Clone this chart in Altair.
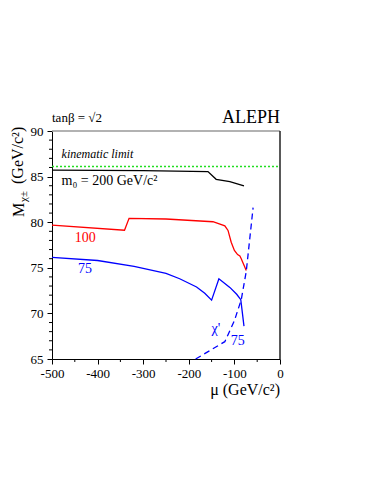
import altair as alt
import pandas as pd

FONT = "Liberation Serif"

# curves: mu (GeV/c^2) vs chargino mass limit (GeV/c^2)
black_mu = [-500, -300, -158, -140, -110, -79]
black_m = [85.72, 85.66, 85.55, 84.7, 84.45, 83.97]

red_mu = [-500, -341, -331, -250, -147, -121, -114, -107, -100, -93, -88, -85, -74]
red_m = [79.67, 79.12, 80.42, 80.35, 80.05, 79.6, 79.1, 77.8, 76.9, 76.45, 76.3, 76.0, 74.7]

blue_mu = [-500, -400, -320, -250, -220, -183, -165, -150, -134, -110, -95, -86, -79]
blue_m = [76.15, 75.8, 75.15, 74.4, 73.8, 72.9, 72.2, 71.45, 73.8, 72.85, 72.1, 71.5, 68.6]

dash_mu = [-185, -121, -100, -85, -74, -59]
dash_m = [65.0, 66.9, 69.2, 71.5, 74.6, 81.6]

kin_mu = [-500, 0]
kin_m = [86.1, 86.1]

x_major = [-500, -400, -300, -200, -100, 0]
x_minor = [-450, -350, -250, -150, -50]
y_major = [65, 70, 75, 80, 85, 90]
y_minor = [v for v in range(66, 90) if v % 5 != 0]

labels = pd.DataFrame({
    "mu": [-450, -443, -150, -108, -479, -479],
    "m": [77.84, 74.44, 67.8, 66.5, 87.06, 84.1],
    "text": ["100", "75", "χ'", "75", "kinematic limit", "m₀ = 200 GeV/c²"],
    "color": ["#ff0000", "#0000ff", "#0000ff", "#0000ff", "#000000", "#000000"],
})

W, H = 228, 228

xs = alt.Scale(domain=[-500, 0], nice=False, zero=False)
ys = alt.Scale(domain=[65, 90], nice=False, zero=False)

xax = alt.Axis(values=x_major, tickSize=5, labelFont=FONT, labelFontSize=13, labelColor="black",
               labelPadding=3, grid=False, title=None, domainColor="black", tickColor="black",
               labelFlush=False, labelExpr="'' + datum.value")
yax = alt.Axis(values=y_major, tickSize=5, labelFont=FONT, labelFontSize=13, labelColor="black",
               labelPadding=4, grid=False, title=None, domainColor="black", tickColor="black",
               labelExpr="'' + datum.value")


def curve(mu, m, color, dash=None, width=1.3):
    df = pd.DataFrame({"mu": mu, "m": m})
    kw = dict(color=color, strokeWidth=width)
    if dash:
        kw["strokeDash"] = dash
    return alt.Chart(df).mark_line(**kw).encode(
        x=alt.X("mu:Q", scale=xs, axis=xax),
        y=alt.Y("m:Q", scale=ys, axis=yax),
    )


base_layers = [
    curve(kin_mu, kin_m, "#22dd22", dash=[2, 2], width=1.6),
    curve(black_mu, black_m, "black"),
    curve(red_mu, red_m, "#ff0000"),
    curve(blue_mu, blue_m, "#0000ff"),
    curve(dash_mu, dash_m, "#0000ff", dash=[6, 4]),
]

xminor = alt.Chart(pd.DataFrame({"mu": x_minor})).mark_rule(color="black", strokeWidth=1).encode(
    x=alt.X("mu:Q", scale=xs), y=alt.value(H), y2=alt.value(H + 3))
yminor = alt.Chart(pd.DataFrame({"m": y_minor})).mark_rule(color="black", strokeWidth=1).encode(
    y=alt.Y("m:Q", scale=ys), x=alt.value(0), x2=alt.value(-3))

top = alt.Chart(pd.DataFrame({"a": [0]})).mark_rule(color="#999999", strokeWidth=1.5).encode(
    x=alt.value(0), x2=alt.value(W), y=alt.value(0))
right = alt.Chart(pd.DataFrame({"a": [0]})).mark_rule(color="#222222", strokeWidth=1.5).encode(
    x=alt.value(W), y=alt.value(0), y2=alt.value(H))

italic_lbl = labels[labels.text == "kinematic limit"]
plain_lbl = labels[labels.text != "kinematic limit"]

txt_plain = alt.Chart(plain_lbl).mark_text(font=FONT, fontSize=14, align="left", baseline="alphabetic").encode(
    x=alt.X("mu:Q", scale=xs), y=alt.Y("m:Q", scale=ys), text="text:N",
    color=alt.Color("color:N", scale=None))
txt_it = alt.Chart(italic_lbl).mark_text(font=FONT, fontSize=12, fontStyle="italic", align="left",
                                          baseline="alphabetic").encode(
    x=alt.X("mu:Q", scale=xs), y=alt.Y("m:Q", scale=ys), text="text:N",
    color=alt.Color("color:N", scale=None))


def ptext(t, x, y, size, align="left", angle=0, style="normal"):
    return alt.Chart(pd.DataFrame({"t": [t]})).mark_text(
        font=FONT, fontSize=size, align=align, baseline="alphabetic", angle=angle,
        fontStyle=style, color="black").encode(
        x=alt.value(x), y=alt.value(y), text="t:N")


annots = [
    ptext("tanβ = √2", 0, -9, 13),
    ptext("ALEPH", W, -8, 18, align="right"),
    ptext("μ (GeV/c²)", W, 264, 16, align="right"),
    ptext("M", -28.5, 86, 16, angle=270),
    ptext("χ±", -25, 71, 11, angle=270),
    ptext("(GeV/c²)", -29, 53, 16, angle=270),
]

chart = alt.layer(*base_layers, xminor, yminor, top, right, txt_plain, txt_it, *annots).properties(
    width=W, height=H,
    autosize=alt.AutoSizeParams(type="none"),
    padding={"left": 44, "top": 123, "right": 90, "bottom": 120},
    background="white",
).configure_view(stroke=None)

chart.save("out.html", embed_options={"renderer": "svg", "actions": False})
